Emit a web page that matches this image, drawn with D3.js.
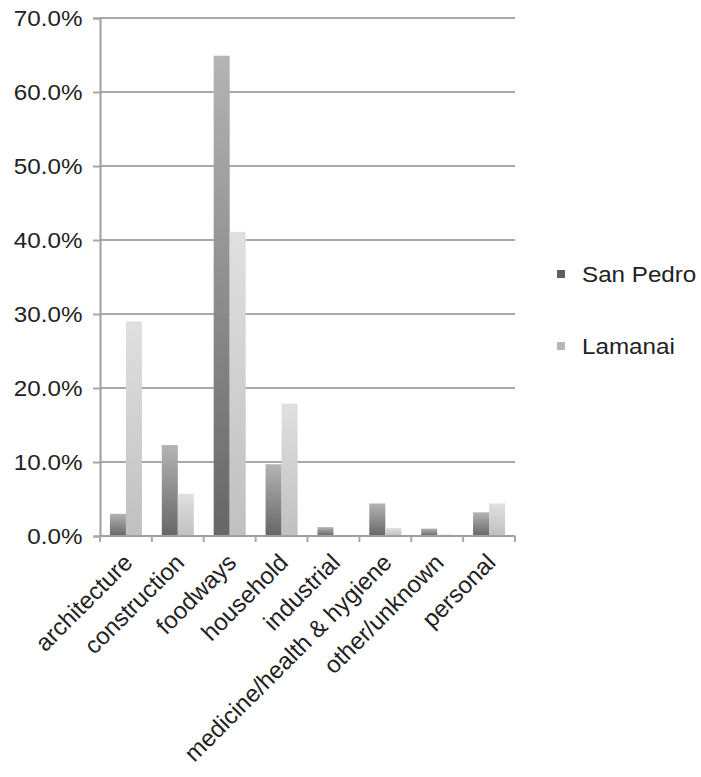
<!DOCTYPE html>
<html>
<head>
<meta charset="utf-8">
<script src="https://cdn.jsdelivr.net/npm/d3@7/dist/d3.min.js"></script>
<style>
  html, body { margin: 0; padding: 0; background: #fff; }
  svg { display: block; font-family: "Liberation Sans", Arial, Helvetica, sans-serif; }
</style>
</head>
<body>
<svg id="chart" width="701" height="777"></svg>
<script>
// Share of artifacts by functional category, per site
const categories = ["architecture", "construction", "foodways", "household",
  "industrial", "medicine/health & hygiene", "other/unknown", "personal"];
const seriesNames = ["San Pedro", "Lamanai"];
const sanPedro = [3.0, 12.3, 64.9, 9.7, 1.2, 4.4, 1.0, 3.2];
const lamanai  = [29.0, 5.7, 41.1, 17.9, 0.0, 1.1, 0.2, 4.4];
const yTicks = [0, 10, 20, 30, 40, 50, 60, 70];

const svg = d3.select("#chart");
const x0 = 100, x1 = 515, yTop = 18, yBot = 536;
const textStretch = 1.1;   // slightly wide lettering

const x = d3.scaleBand().domain(categories).range([x0, x1]).paddingInner(0).paddingOuter(0);
const xs = d3.scaleBand().domain(seriesNames).range([0, x.bandwidth()]).paddingInner(0).paddingOuter(0.62);
const y = d3.scaleLinear().domain([0, 70]).range([yBot, yTop]);

const defs = svg.append("defs");
function grad(id, bottom, top) {
  const g = defs.append("linearGradient").attr("id", id)
    .attr("x1", 0).attr("y1", 1).attr("x2", 0).attr("y2", 0);
  g.append("stop").attr("offset", "0%").attr("stop-color", bottom);
  g.append("stop").attr("offset", "100%").attr("stop-color", top);
}
grad("g-sp", "#666666", "#b4b4b4");
grad("g-la", "#c0c0c0", "#e0e0e0");
defs.append("filter").attr("id", "soft").append("feGaussianBlur").attr("stdDeviation", 0.6);
const fills = { "San Pedro": "url(#g-sp)", "Lamanai": "url(#g-la)" };
const swatch = { "San Pedro": "#5e5e5e", "Lamanai": "#b8b8b8" };

// horizontal gridlines
svg.append("g").attr("filter", "url(#soft)")
  .selectAll("line").data(yTicks.filter(d => d > 0)).join("line")
  .attr("x1", x0).attr("x2", x1)
  .attr("y1", d => y(d)).attr("y2", d => y(d))
  .attr("stroke", "#a8a8a8").attr("stroke-width", 2);

// y axis
const yAxis = d3.axisLeft(y).tickValues(yTicks).tickSize(7).tickPadding(9)
  .tickFormat(d => d.toFixed(1) + "%");
const gy = svg.append("g").attr("transform", `translate(${x0},0)`).call(yAxis);
gy.select(".domain").attr("stroke", "#a0a0a0").attr("stroke-width", 2);
gy.selectAll(".tick line").attr("stroke", "#a8a8a8").attr("stroke-width", 2);
gy.selectAll(".tick text").attr("font-size", 22).attr("fill", "#222")
  .attr("font-family", "Liberation Sans, Arial, sans-serif")
  .attr("transform", `scale(${textStretch},1)`);

// bars
const rows = categories.map((c, i) => ({ c, vals: [sanPedro[i], lamanai[i]] }));
svg.append("g").attr("filter", "url(#soft)")
  .selectAll("g").data(rows).join("g")
  .attr("transform", d => `translate(${x(d.c)},0)`)
  .selectAll("rect").data(d => d.vals.map((v, j) => ({ s: seriesNames[j], v })))
  .join("rect")
  .attr("x", d => xs(d.s)).attr("width", xs.bandwidth())
  .attr("y", d => y(d.v)).attr("height", d => yBot - y(d.v))
  .attr("fill", d => fills[d.s]);

// x axis baseline with boundary ticks
const bounds = categories.map(c => x(c)).concat([x1]);
svg.append("line").attr("x1", x0).attr("x2", x1).attr("y1", yBot).attr("y2", yBot)
  .attr("stroke", "#a0a0a0").attr("stroke-width", 2);
svg.append("g").selectAll("line").data(bounds).join("line")
  .attr("x1", d => d).attr("x2", d => d).attr("y1", yBot).attr("y2", yBot + 6)
  .attr("stroke", "#a8a8a8").attr("stroke-width", 2);

// rotated category labels
svg.append("g").selectAll("text").data(categories).join("text")
  .attr("transform", d => `translate(${x(d) + x.bandwidth() / 2 + 8},${yBot + 28}) rotate(-45)`)
  .attr("text-anchor", "end").attr("font-size", 24).attr("fill", "#222")
  .text(d => d);

// legend
const lg = svg.append("g").selectAll("g").data(seriesNames).join("g")
  .attr("transform", (d, i) => `translate(557,${274 + i * 72})`);
lg.append("rect").attr("x", 0).attr("y", -4).attr("width", 8).attr("height", 8)
  .attr("fill", d => swatch[d]).attr("filter", "url(#soft)");
lg.append("text").attr("transform", `translate(25,0) scale(${textStretch},1)`)
  .attr("dy", "0.35em")
  .attr("font-size", 22).attr("fill", "#222").text(d => d);
</script>
</body>
</html>
